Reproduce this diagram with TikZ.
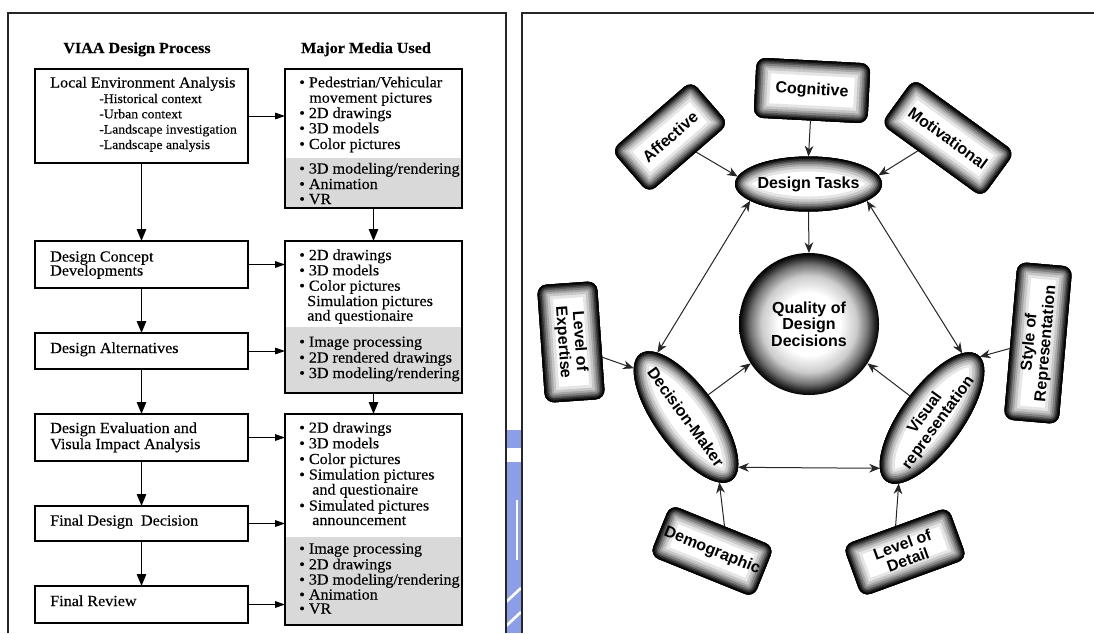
\documentclass[tikz,border=0pt]{standalone}
\usepackage{fontspec}
\setmainfont{Liberation Serif}[FakeStretch=1.05,FakeBold=0.3]
\setsansfont{Liberation Sans}
\usetikzlibrary{arrows.meta,shapes.geometric}
\definecolor{wmblue}{RGB}{140,158,232}
% soft "inner glow" for the round hub: light centre, black rim
\pgfdeclareradialshading{glow}{\pgfpoint{0bp}{0bp}}{color(0bp)=(white); color(11bp)=(white); color(17bp)=(black!20); color(21bp)=(black!55); color(23.5bp)=(black!85); color(25bp)=(black); color(40bp)=(black)}

\tikzset{
  frame/.style={line width=1.1pt,black!85},
  stage/.style={draw,line width=1.4pt,inner sep=0pt,outer sep=0pt},
  sz/.style 2 args={minimum width=#1*0.75pt,minimum height=#2*0.75pt},
  txt/.style={anchor=base west,inner sep=0pt,font=\fontsize{11.5pt}{11.7pt}\selectfont},
  sub/.style={txt,font=\fontsize{9.8pt}{11.7pt}\selectfont},
  head/.style={anchor=base,inner sep=0pt,font=\bfseries\fontsize{11.5pt}{12pt}\selectfont},
  flow/.style={line width=1.4pt,-{Triangle[length=9pt,width=7pt]}},
  feed/.style={line width=0.7pt,-{Triangle[length=7.5pt,width=5pt]}},
  grain/.style={fill=black!15},
  lbl/.style={align=center,inner sep=0pt,font=\sffamily\bfseries\fontsize{12pt}{12.3pt}\selectfont},
  link/.style={line width=0.75pt,black!85,-{Stealth[length=8pt,width=6.5pt,inset=2.5pt]}},
  both/.style={line width=0.75pt,black!85,{Stealth[length=8pt,width=6.5pt,inset=2.5pt]}-{Stealth[length=8pt,width=6.5pt,inset=2.5pt]}}
}

% dark rim fading inwards to a white core, for any closed path
\newcommand\rimfill[1]{%
  \begin{scope}
    \clip #1;
    \fill[white] #1;
    \foreach \w/\c in {30/10,24/22,19/35,15/50,11/65,8/80,5/92,2.5/100}
      \draw[black!\c,line width=\w*0.75pt] #1;
  \end{scope}}
% rounded box: name, centre, angle, width, height, label
\newcommand\glowrect[6]{%
  \begin{scope}[transform canvas={shift={(#2)},rotate=#3}]
    \rimfill{[rounded corners=7pt] (-#4/2,-#5/2) rectangle (#4/2,#5/2)}
  \end{scope}
  \node[rectangle,inner sep=0pt,outer sep=0pt,minimum width=#4*0.75pt,minimum height=#5*0.75pt,rotate=#3] (#1) at (#2) {};
  \node[lbl,rotate=#3] (#1-text) at (#2) {#6};
}
% oval: name, centre, angle, width, height, label
\newcommand\glowoval[6]{%
  \begin{scope}[transform canvas={shift={(#2)},rotate=#3}]
    \rimfill{(0,0) ellipse [x radius=#4*0.375pt, y radius=#5*0.375pt]}
  \end{scope}
  \node[ellipse,inner sep=0pt,outer sep=0pt,minimum width=#4*0.75pt,minimum height=#5*0.75pt,rotate=#3] (#1) at (#2) {};
  \node[lbl,rotate=#3] (#1-text) at (#2) {#6};
}
% round hub: name, centre, width, height, label
\newcommand\glowball[5]{%
  \shade[shading=glow] (#2) ellipse [x radius=#3*0.375pt, y radius=#4*0.375pt];
  \node[ellipse,inner sep=0pt,outer sep=0pt,minimum width=#3*0.75pt,minimum height=#4*0.75pt] (#1) at (#2) {};
  \node[lbl] (#1-text) at (#2) {#5};
}

\begin{document}
\begin{tikzpicture}[x=0.75pt,y=-0.75pt]
\useasboundingbox (0,0) rectangle (1094,633);
\clip (0,0) rectangle (1094,633);

% ---------- strip between the two panels ----------
\fill[wmblue] (506,430) rectangle (521,448);
\fill[wmblue] (506,462) rectangle (521,633);
\draw[white,line width=1pt] (517,500) -- (517,560);
\draw[white,line width=2pt] (506,602) -- (521,588);
\draw[white,line width=2pt] (506,626) -- (521,612);

% ---------- panel frames ----------
\draw[frame] (8,633) -- (8,13) -- (506,13) -- (506,633);
\draw[frame] (522,633) -- (522,13) -- (1094,13);

% ---------- left panel: process and media ----------
\node[head] (hproc) at (137,53) {VIAA Design Process};
\node[head] (hmedia) at (366,53) {Major Media Used};

% grainy lower parts of the media boxes
\fill[grain] (285,158) rectangle (462,208);
\fill[grain] (285,327) rectangle (462,393);
\fill[grain] (285,537) rectangle (462,625);

\node[stage,sz={213}{94}] (b1) at (141.5,116) {};
\node[stage,sz={213}{47}] (b2) at (141.5,264.5) {};
\node[stage,sz={213}{36}] (b3) at (141.5,351) {};
\node[stage,sz={213}{47}] (b4) at (141.5,437.5) {};
\node[stage,sz={213}{35}] (b5) at (141.5,523.5) {};
\node[stage,sz={213}{37}] (b6) at (141.5,604.5) {};

\node[stage,sz={177}{139}] (r1) at (373.5,138.5) {};
\node[stage,sz={177}{152}] (r2) at (373.5,317) {};
\node[stage,sz={177}{211}] (r3) at (373.5,519.5) {};

% process texts
\node[txt] (b1a) at (50,87.5) {Local Environment Analysis};
\node[sub] (b1b) at (99,103) {-Historical context};
\node[sub] (b1c) at (99,118.3) {-Urban context};
\node[sub] (b1d) at (99,133.6) {-Landscape investigation};
\node[sub] (b1e) at (99,149) {-Landscape analysis};
\node[txt] (b2a) at (50,261.5) {Design Concept};
\node[txt] (b2b) at (50,275.5) {Developments};
\node[txt] (b3a) at (50,353) {Design Alternatives};
\node[txt] (b4a) at (50,433) {Design Evaluation and};
\node[txt] (b4b) at (50,449) {Visula Impact Analysis};
\node[txt] (b5a) at (50,525.5) {Final Design~ Decision};
\node[txt] (b6a) at (50,606) {Final Review};

% media texts
\node[txt] (r1a) at (299,87.3) {\textbullet\ Pedestrian/Vehicular};
\node[txt] (r1b) at (309,102.7) {movement pictures};
\node[txt] (r1c) at (299,118) {\textbullet\ 2D drawings};
\node[txt] (r1d) at (299,133.3) {\textbullet\ 3D models};
\node[txt] (r1e) at (299,149) {\textbullet\ Color pictures};
\node[txt] (r1f) at (299,173.5) {\textbullet\ 3D modeling/rendering};
\node[txt] (r1g) at (299,189) {\textbullet\ Animation};
\node[txt] (r1h) at (299,204) {\textbullet\ VR};

\node[txt] (r2a) at (299,260) {\textbullet\ 2D drawings};
\node[txt] (r2b) at (299,275.3) {\textbullet\ 3D models};
\node[txt] (r2c) at (299,290.7) {\textbullet\ Color pictures};
\node[txt] (r2d) at (307,306) {Simulation pictures};
\node[txt] (r2e) at (307,320.5) {and questionaire};
\node[txt] (r2f) at (299,346.7) {\textbullet\ Image processing};
\node[txt] (r2g) at (299,362.5) {\textbullet\ 2D rendered drawings};
\node[txt] (r2h) at (299,378) {\textbullet\ 3D modeling/rendering};

\node[txt] (r3a) at (299,432.7) {\textbullet\ 2D drawings};
\node[txt] (r3b) at (299,448.3) {\textbullet\ 3D models};
\node[txt] (r3c) at (299,464) {\textbullet\ Color pictures};
\node[txt] (r3d) at (299,479.5) {\textbullet\ Simulation pictures};
\node[txt] (r3e) at (312,494.5) {and questionaire};
\node[txt] (r3f) at (299,510.5) {\textbullet\ Simulated pictures};
\node[txt] (r3g) at (312,525) {announcement};
\node[txt] (r3h) at (299,553.5) {\textbullet\ Image processing};
\node[txt] (r3i) at (299,569.3) {\textbullet\ 2D drawings};
\node[txt] (r3j) at (299,584.5) {\textbullet\ 3D modeling/rendering};
\node[txt] (r3k) at (299,599.5) {\textbullet\ Animation};
\node[txt] (r3l) at (299,613.5) {\textbullet\ VR};

% process flow
\draw[flow] (b1.south) -- (b2.north);
\draw[flow] (b2.south) -- (b3.north);
\draw[flow] (b3.south) -- (b4.north);
\draw[flow] (b4.south) -- (b5.north);
\draw[flow] (b5.south) -- (b6.north);
\draw[flow] (r1.south) -- (r2.north);
\draw[flow] (r2.south) -- (r3.north);

% stages to media
\draw[feed] (b1.east) -- (b1.east -| r1.west);
\draw[feed] (b2.east) -- (b2.east -| r2.west);
\draw[feed] (b3.east) -- (b3.east -| r2.west);
\draw[feed] (b4.east) -- (b4.east -| r3.west);
\draw[feed] (b5.east) -- (b5.east -| r3.west);
\draw[feed] (b6.east) -- (b6.east -| r3.west);

% ---------- right panel: factors of decision quality ----------
\glowrect{cog}{812,90.5}{-3}{114}{60}{Cognitive}
\glowrect{aff}{670,137}{41}{106}{57}{Affective}
\glowrect{mot}{948,138}{-36}{125}{56}{Motivational}
\glowoval{dt}{808.5,184}{0}{147}{55}{Design Tasks}
\glowball{q}{809,324}{140}{142}{Quality of\\Design\\Decisions}
\glowoval{dm}{686,417}{-54}{156}{62}{Decision-Maker}
\glowoval{vr}{932,418}{54}{156}{62}{Visual\\representation}
\glowrect{loe}{571,342}{-86}{118}{60}{Level of\\Expertise}
\glowrect{sor}{1038,343}{85}{158}{55}{Style of\\Representation}
\glowrect{demo}{712,551}{-22}{112}{55}{Demographic}
\glowrect{lod}{905,552}{20}{112}{55}{Level of\\Detail}

\draw[link] (cog.south) -- (dt.north);
\draw[link] (aff.-71) -- (dt.174);
\draw[link] (mot.-121) -- (dt.7);
\draw[link] (dt.south) -- (q.north);
\draw[both] (dt.196) -- (dm.168);
\draw[both] (dt.-16) -- (vr.11);
\draw[link] (dm.99) -- (q.214);
\draw[link] (vr.81) -- (q.-34);
\draw[both] (dm.10) -- (vr.170);
\draw[link] (loe.60) -- (dm.191);
\draw[link] (sor.106) -- (vr.-2);
\draw[link] (demo.85) -- (dm.-9);
\draw[link] (lod.north) -- (vr.189);
\end{tikzpicture}
\end{document}
